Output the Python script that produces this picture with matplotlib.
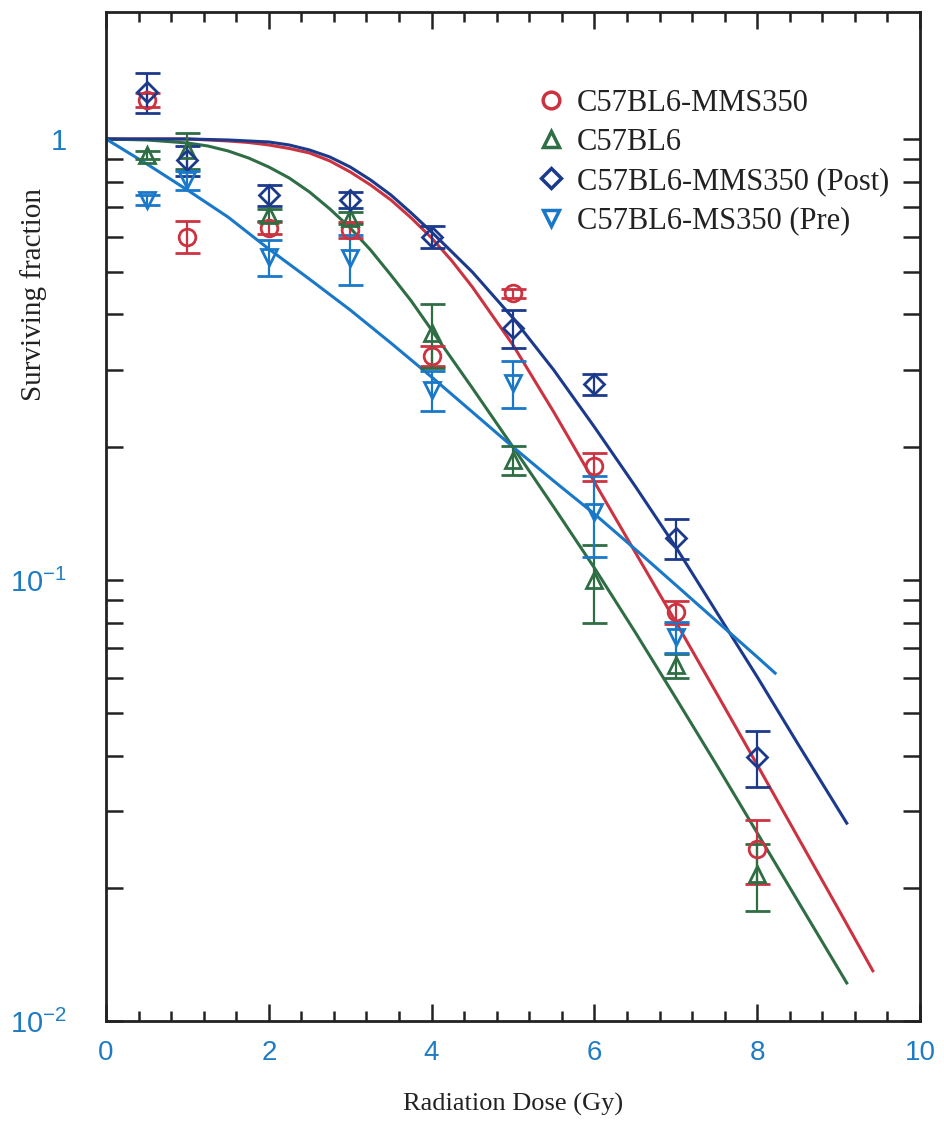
import numpy as np
import matplotlib
matplotlib.use("Agg")
import matplotlib.pyplot as plt
from matplotlib.lines import Line2D
from matplotlib.ticker import FixedLocator, LogLocator, FuncFormatter, NullFormatter, MultipleLocator

plt.rcParams['mathtext.fontset'] = 'custom'
plt.rcParams['mathtext.rm'] = 'Liberation Sans'
plt.rcParams['mathtext.default'] = 'regular'

# measured points (dose in Gy, surviving fraction)
dose = [0.5, 1, 2, 3, 4, 5, 6, 7, 8]
mms350 = [1.226, 0.600, 0.628, 0.622, 0.322, 0.447, 0.181, 0.0846, 0.0245]
mms350_err = [0.045, 0.05, 0.02, 0.025, 0.017, 0.01, 0.013, 0.005, 0.0041]
c57 = [0.92, 0.944, 0.672, 0.662, 0.363, 0.187, 0.100, 0.0641, 0.0215]
c57_err = [0.02, 0.09, 0.02, 0.02, 0.06, 0.014, 0.02, 0.004, 0.0037]
post = [1.278, 0.896, 0.746, 0.727, 0.600, 0.373, 0.278, 0.1245, 0.0397]
post_err = [0.135, 0.07, 0.04, 0.03, 0.035, 0.037, 0.015, 0.013, 0.0058]
pre_dose = [0.5, 1, 2, 3, 4, 5, 6, 7]
pre = [0.727, 0.807, 0.540, 0.537, 0.270, 0.280, 0.1425, 0.0743]
pre_err = [0.02, 0.04, 0.05, 0.07, 0.028, 0.034, 0.03, 0.006]

# fitted curves
mms350_fit_x = [0, 0.5, 1, 1.5, 1.75, 2, 2.25, 2.5, 2.75, 3, 3.25, 3.5, 3.75, 4, 4.25, 4.5,
                5, 5.5, 6, 6.5, 7, 7.5, 8, 8.5, 9, 9.42]
mms350_fit_y = [1, 1, 1, 0.9896, 0.9819, 0.9692, 0.9516, 0.9295, 0.8916, 0.8419, 0.7864,
                0.7273, 0.6620, 0.5964, 0.5289, 0.4618, 0.3410, 0.2404, 0.1668, 0.1157,
                0.0803, 0.0554, 0.0381, 0.0261, 0.0179, 0.0130]
c57_fit_x = [0, 0.5, 1, 1.25, 1.5, 1.75, 2, 2.25, 2.5, 2.75, 3, 3.25, 3.5, 3.75, 4, 4.5, 5,
             5.5, 6, 6.5, 7, 7.5, 8, 8.5, 9.1]
c57_fit_y = [1, 0.9948, 0.9793, 0.9641, 0.9393, 0.9056, 0.8639, 0.8158, 0.7582, 0.6940,
             0.6284, 0.5601, 0.4914, 0.4292, 0.3688, 0.2725, 0.2002, 0.1464, 0.1065, 0.0762,
             0.0540, 0.0381, 0.0267, 0.0187, 0.0122]
post_fit_x = [0, 0.5, 1, 1.5, 1.75, 2, 2.25, 2.5, 2.75, 3, 3.25, 3.5, 3.75, 4, 4.25, 4.5,
              5, 5.5, 6, 6.5, 7, 7.5, 8, 8.5, 9.1]
post_fit_y = [1, 1, 1, 0.9948, 0.9896, 0.9845, 0.9692, 0.9442, 0.9103, 0.8639, 0.8074,
              0.7464, 0.6795, 0.6153, 0.5543, 0.4993, 0.3926, 0.2994, 0.2223, 0.1633,
              0.1188, 0.0846, 0.0603, 0.0425, 0.0281]
pre_fit_x = [0, 0.5, 1, 1.5, 2, 2.5, 3, 3.5, 4, 4.5, 5, 5.5, 6, 6.5, 7, 7.5, 8, 8.22]
pre_fit_y = [1, 0.878, 0.766, 0.665, 0.563, 0.481, 0.4095, 0.3446, 0.2886, 0.2404, 0.2002,
             0.1677, 0.1412, 0.1175, 0.0974, 0.0807, 0.0669, 0.0615]

labels = ["C57BL6-MMS350", "C57BL6", "C57BL6-MMS350 (Post)", "C57BL6-MS350 (Pre)"]
red = '#cc3340'
green = '#2f6e45'
navy = '#1c3a8c'
blue = '#1a78c8'
tick_blue = '#1f7cc2'

fig = plt.figure(figsize=(9.44, 11.36), dpi=100)
ax = fig.add_axes([0.1123, 0.1012, 0.8623, 0.8882])

lw = 2.2
ax.plot(mms350_fit_x, mms350_fit_y, color=red, lw=lw, zorder=2)
ax.plot(c57_fit_x, c57_fit_y, color=green, lw=lw, zorder=2)
ax.plot(post_fit_x, post_fit_y, color=navy, lw=lw, zorder=2)
ax.plot(pre_fit_x, pre_fit_y, color=blue, lw=lw, zorder=2)

mk = dict(markersize=12, markerfacecolor='none', markeredgewidth=2, capsize=9,
          elinewidth=1.6, capthick=1.6, linestyle='none', zorder=3)
ax.errorbar(dose, mms350, yerr=mms350_err, marker='o', color=red, **mk)
ax.errorbar(dose, c57, yerr=c57_err, marker='^', color=green, **mk)
ax.errorbar(dose, post, yerr=post_err, marker='D', color=navy,
            **{**mk, 'markersize': 10})
ax.errorbar(pre_dose, pre, yerr=pre_err, marker='v', color=blue, **mk)

ax.set_yscale('log')
ax.set_xlim(0, 10)
ax.set_ylim(0.01, 1.94)

ax.xaxis.set_major_locator(MultipleLocator(2))
ax.xaxis.set_minor_locator(MultipleLocator(0.4))
ax.yaxis.set_major_locator(FixedLocator([0.01, 0.1, 1]))
ax.yaxis.set_minor_locator(LogLocator(base=10, subs=np.arange(2, 10)))
ax.yaxis.set_minor_formatter(NullFormatter())
ylab = {1: '1', 0.1: r'$10^{-1}$', 0.01: r'$10^{-2}$'}
ax.yaxis.set_major_formatter(FuncFormatter(lambda v, p: ylab.get(round(v, 4), '')))

ax.tick_params(which='both', direction='in', top=True, right=True, width=1.8,
               colors='#222222', labelcolor=tick_blue, labelsize=20)
ax.tick_params(axis='x', which='major', length=12, pad=14)
ax.tick_params(axis='x', which='minor', length=7)
ax.tick_params(axis='y', which='both', length=12, pad=28, labelsize=21)
for lab in ax.get_xticklabels() + ax.get_yticklabels():
    lab.set_family('Liberation Sans')
for s in ax.spines.values():
    s.set_linewidth(2)
    s.set_color('#222222')

ax.set_xlabel('Radiation Dose (Gy)', family='Liberation Serif', fontsize=19, color='#222222')
ax.xaxis.set_label_coords(0.5, -0.071)
ax.set_ylabel('Surviving fraction', family='Liberation Serif', fontsize=21, color='#222222')
ax.yaxis.set_label_coords(-0.072, 0.72)

handles = [Line2D([], [], marker=m, color=c, markerfacecolor='none', markeredgewidth=2.5,
                  markersize=ms, linestyle='none')
           for m, c, ms in [('o', red, 12), ('^', green, 12), ('D', navy, 10), ('v', blue, 12)]]
leg = ax.legend(handles, labels, loc='upper left', bbox_to_anchor=(0.494, 0.951), frameon=False,
                prop={'family': 'Liberation Serif', 'size': 22}, handletextpad=0.35,
                labelspacing=0.33, handlelength=1.0)
for t in leg.get_texts():
    t.set_color('#222222')

fig.savefig('out.png', dpi=100)
